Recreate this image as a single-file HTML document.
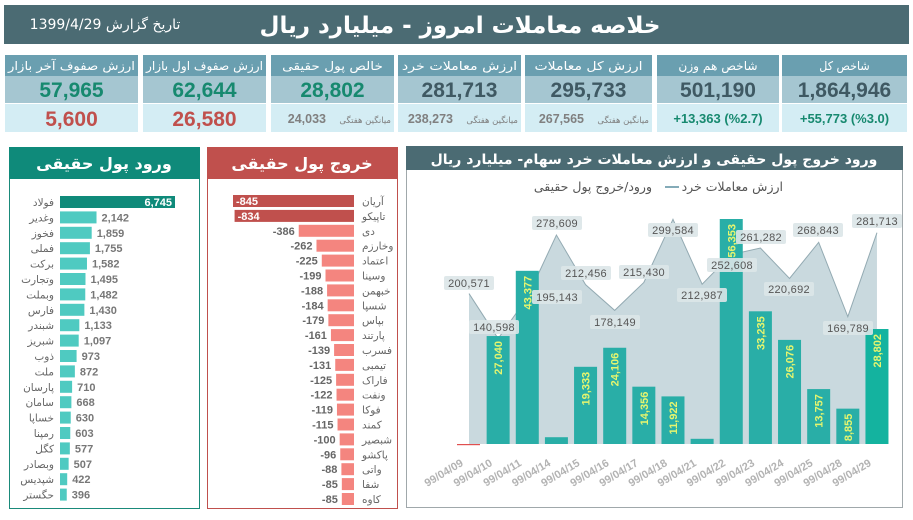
<!DOCTYPE html>
<html><head><meta charset="utf-8"><style>
body{margin:0;width:913px;height:515px;background:#fff;overflow:hidden;font-family:"Liberation Sans","DejaVu Sans",sans-serif}
</style></head><body>
<svg width="913" height="515" viewBox="0 0 913 515" xmlns="http://www.w3.org/2000/svg" font-family="Liberation Sans, DejaVu Sans, sans-serif">
<rect x="4" y="5" width="905" height="39" fill="#4b6b73"/>
<text x="460" y="33" font-size="23" font-weight="bold" fill="#fff" text-anchor="middle" font-family="DejaVu Sans, sans-serif">خلاصه معاملات امروز - میلیارد ریال</text>
<text x="105" y="29" font-size="14" fill="#fff" text-anchor="middle" font-family="DejaVu Sans, sans-serif">تاریخ گزارش 1399/4/29</text>
<g id="cards"></g>
<g id="left"></g>
<g id="mid"></g>
<g id="right"></g>
</svg>
<script>
const NS="http://www.w3.org/2000/svg";
function el(parent,tag,attrs,text){const e=document.createElementNS(NS,tag);for(const k in attrs)e.setAttribute(k,attrs[k]);if(text!==undefined)e.textContent=text;parent.appendChild(e);return e;}
const F="Liberation Sans, DejaVu Sans, sans-serif";
const FA="DejaVu Sans, sans-serif";
const cards=document.getElementById('cards');
const cols=[[5,138],[143,266],[271,394],[398,521],[525,652],[657,779],[782,907]];
const data=[
 ["ارزش صفوف آخر بازار","57,965","#17896f",null,"5,600","#c0504d"],
 ["ارزش صفوف اول بازار","62,644","#17896f",null,"26,580","#c0504d"],
 ["خالص پول حقیقی","28,802","#17896f","میانگین هفتگی","24,033","#808080"],
 ["ارزش معاملات خرد","281,713","#3f5963","میانگین هفتگی","238,273","#808080"],
 ["ارزش کل معاملات","295,733","#3f5963","میانگین هفتگی","267,565","#808080"],
 ["شاخص هم وزن","501,190","#3f5963",null,"+13,363 (%2.7)","#17896f"],
 ["شاخص کل","1,864,946","#3f5963",null,"+55,773 (%3.0)","#17896f"]];
cols.forEach((c,i)=>{const [x0,x1]=c,w=x1-x0,cx=(x0+x1)/2,d=data[i];
 el(cards,'rect',{x:x0,y:55,width:w,height:21,fill:'#6a9fb0'});
 el(cards,'rect',{x:x0,y:76,width:w,height:27,fill:'#a5c6d1'});
 el(cards,'rect',{x:x0,y:104,width:w,height:28,fill:'#d4edf4'});
 el(cards,'text',{x:cx,y:70,'font-size':12,fill:'#fff','text-anchor':'middle','font-family':FA,textLength:Math.min(w-6,d[0].length*7.2),lengthAdjust:'spacingAndGlyphs'},d[0]);
 el(cards,'text',{x:cx,y:97,'font-size':21,'font-weight':'bold',fill:d[2],'text-anchor':'middle','font-family':F},d[1]);
 if(d[3]){
  el(cards,'text',{x:x1-3,y:123,'font-size':8.5,fill:'#808080','text-anchor':'end','font-family':FA},d[3]);
  el(cards,'text',{x:x1-68,y:123,'font-size':12.5,'font-weight':'bold',fill:d[5],'text-anchor':'end','font-family':F},d[4]);
 } else {
  const big=d[5]=="#c0504d";
  el(cards,'text',{x:cx,y:big?126:123,'font-size':big?21:13,'font-weight':'bold',fill:d[5],'text-anchor':'middle','font-family':F},d[4]);
 }
});
const L=document.getElementById('left');
el(L,'rect',{x:9.5,y:147.5,width:190,height:361,fill:'#fff',stroke:'#1a8a7a'});
el(L,'rect',{x:9,y:147,width:191,height:32,fill:'#0f8a7a'});
el(L,'text',{x:104,y:169,'font-size':16,'font-weight':'bold',fill:'#fff','text-anchor':'middle','font-family':FA},'ورود پول حقیقی');
const ln=["فولاد","وغدیر","فخوز","فملی","برکت","وتجارت","وبملت","فارس","شبندر","شبریز","ذوب","ملت","پارسان","سامان","خساپا","رمپنا","کگل","وبصادر","شپدیس","حگستر"];
const lv=[6745,2142,1859,1755,1582,1495,1482,1430,1133,1097,973,872,710,668,630,603,577,507,422,396];
lv.forEach((v,i)=>{const y=202+i*15.4,w=v*115/6745;
 el(L,'rect',{x:60,y:y-6,width:w,height:12,fill:i?'#4fcac1':'#0f8a7a'});
 el(L,'text',{x:54,y:y+4,'font-size':10.5,fill:'#666','text-anchor':'end','font-family':FA},ln[i]);
 const s=v.toLocaleString('en-US');
 if(i==0)el(L,'text',{x:60+w-3,y:y+4,'font-size':11,'font-weight':'bold',fill:'#fff','text-anchor':'end','font-family':F},s);
 else el(L,'text',{x:60+w+5,y:y+4,'font-size':11,'font-weight':'bold',fill:'#777','font-family':F},s);
});
const M=document.getElementById('mid');
el(M,'rect',{x:207.5,y:147.5,width:190,height:361,fill:'#fff',stroke:'#c0504d'});
el(M,'rect',{x:207,y:147,width:191,height:32,fill:'#c0504d'});
el(M,'text',{x:302,y:169,'font-size':16,'font-weight':'bold',fill:'#fff','text-anchor':'middle','font-family':FA},'خروج پول حقیقی');
const mn=["آریان","تاپیکو","دی","وخارزم","اعتماد","وسینا","خبهمن","شسپا","بپاس","پارتند","فسرب","تیمبی","فاراک","ونفت","فوکا","کمند","شبصیر","پاکشو","واتی","شفا","کاوه"];
const mv=[845,834,386,262,225,199,188,184,179,161,139,131,125,122,119,115,100,96,88,85,85];
mv.forEach((v,i)=>{const y=201+i*14.9,w=v*121/845,x=354-w;
 el(M,'rect',{x:x,y:y-6,width:w,height:12,fill:i<2?'#c0504d':'#f4857f'});
 el(M,'text',{x:362,y:y+4,'font-size':10.5,fill:'#666','font-family':FA},mn[i]);
 if(i<2)el(M,'text',{x:x+3,y:y+4,'font-size':11,'font-weight':'bold',fill:'#fff','font-family':F},'-'+v);
 else el(M,'text',{x:x-4,y:y+4,'font-size':11,'font-weight':'bold',fill:'#666','text-anchor':'end','font-family':F},'-'+v);
});
const R=document.getElementById('right');
el(R,'rect',{x:406.5,y:146.5,width:496,height:361,fill:'#fff',stroke:'#a0a8ab'});
el(R,'rect',{x:406,y:146,width:497,height:24,fill:'#4b6b73'});
el(R,'text',{x:654,y:164,'font-size':14,'font-weight':'bold',fill:'#fff','text-anchor':'middle','font-family':FA},'ورود خروج پول حقیقی و ارزش معاملات خرد سهام- میلیارد ریال');
el(R,'text',{x:783,y:191,'font-size':12.5,fill:'#555','text-anchor':'end','font-family':FA},'ارزش معاملات خرد');
el(R,'line',{x1:665,y1:187,x2:679,y2:187,stroke:'#5a8fa0','stroke-width':1.5});
el(R,'text',{x:652,y:191,'font-size':12.5,fill:'#555','text-anchor':'end','font-family':FA},'ورود/خروج پول حقیقی');
const line=[200571,140598,195143,278609,212456,178149,215430,299584,212987,252608,261282,220692,268843,169789,281713];
const bars=[-300,27040,43377,1700,19333,24106,14356,11922,1300,56353,33235,26076,13757,8855,28802];
const dates=["99/04/09","99/04/10","99/04/11","99/04/14","99/04/15","99/04/16","99/04/17","99/04/18","99/04/21","99/04/22","99/04/23","99/04/24","99/04/25","99/04/28","99/04/29"];
const base=444,cx=i=>469+i*29.14;
let pts=line.map((v,i)=>cx(i)+','+(base-v*225/300000)).join(' ');
el(R,'polygon',{points:cx(0)+','+base+' '+pts+' '+cx(14)+','+base,fill:'#c9d9de'});
el(R,'polyline',{points:pts,fill:'none',stroke:'#93aab2','stroke-width':1});
bars.forEach((v,i)=>{const x=cx(i);
 if(v<0){el(R,'rect',{x:x-12,y:base,width:23,height:1.2,fill:'#e05050'});}
 else{const h=v*225/56353,t=base-h;
  el(R,'rect',{x:x-11.5,y:t,width:23,height:h,fill:i==14?'#14b39f':'#29aea7'});
  if(v>5000)el(R,'text',{transform:`translate(${x+4},${t+5}) rotate(-90)`,'font-size':11,'font-weight':'bold',fill:'#e6f56e','text-anchor':'end','font-family':F},v.toLocaleString('en-US'));
 }
 el(R,'text',{transform:`translate(${x-5},${465}) rotate(-31)`,'font-size':11,'font-weight':'bold',fill:'#b3b3b3','text-anchor':'end','font-family':F},dates[i]);
});
const lab=[[469,283],[494,327],[557,297],[557,223],[586,273],[615,322],[644,272],[673,230],[702,295],[732,265],[761,237],[789,289],[818,230],[848,328],[877,221]];
lab.forEach((p,i)=>{
 el(R,'rect',{x:p[0]-25,y:p[1]-7,width:50,height:14,rx:2,fill:'#dbe5e8','fill-opacity':0.9});
 el(R,'text',{x:p[0],y:p[1]+4,'font-size':11,fill:'#555','text-anchor':'middle','font-family':F,'letter-spacing':'0.3'},line[i].toLocaleString('en-US'));
});
</script>
</body></html>
